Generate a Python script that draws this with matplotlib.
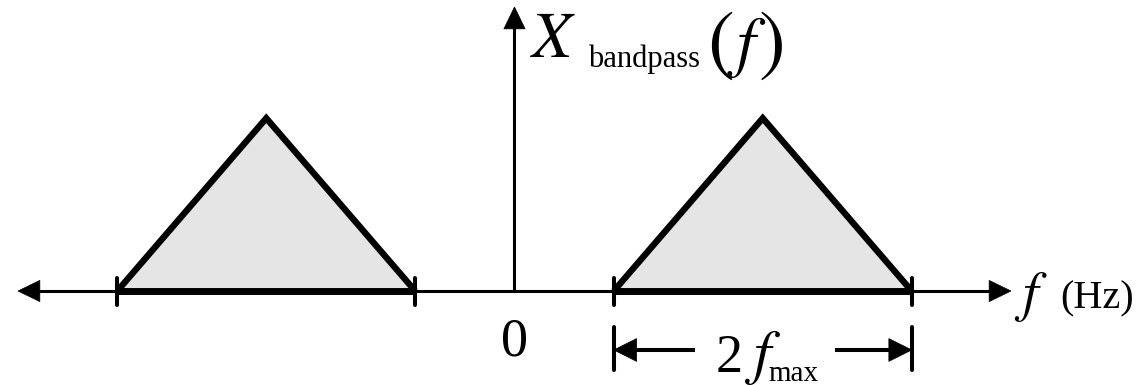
import matplotlib
matplotlib.use("Agg")
import matplotlib.pyplot as plt
from matplotlib.patches import Polygon

# Spectrum of a bandpass signal: two triangular bands mirrored about 0 Hz
freq_neg = [-4.0, -2.5, -1.0]
amp_neg = [0.0, 1.74, 0.0]
freq_pos = [1.0, 2.5, 4.0]
amp_pos = [0.0, 1.74, 0.0]
band_ticks = [-4.0, -1.0, 1.0, 4.0]
axis_reach = 5.0      # horizontal axis runs from -axis_reach to +axis_reach
axis_top = 2.86       # tip of the vertical axis
dim_level = -0.594    # height of the bandwidth dimension line

W, H, DPI = 1144, 385, 100
SCALE = 99.3          # pixels per frequency unit
X0, Y0 = 514.5, 291.0  # pixel position of the origin

fig = plt.figure(figsize=(W / DPI, H / DPI), dpi=DPI)
ax = fig.add_axes([0, 0, 1, 1])
ax.set_xlim(-X0 / SCALE, (W - X0) / SCALE)
ax.set_ylim((Y0 - H) / SCALE, Y0 / SCALE)
ax.set_aspect("equal")
ax.axis("off")

ROMAN = "Liberation Serif"
STIX = "STIXGeneral"
HEAD_L, HEAD_W = 0.22, 0.107


def head(tip, direction, length=HEAD_L, half=HEAD_W):
    """Filled triangular arrowhead with its tip at `tip`, pointing along `direction`."""
    tx, ty = tip
    dx, dy = direction
    bx, by = tx - dx * length, ty - dy * length
    px_, py_ = -dy * half, dx * half
    ax.add_patch(Polygon([(tx, ty), (bx + px_, by + py_), (bx - px_, by - py_)],
                         closed=True, facecolor="black", edgecolor="black",
                         linewidth=0.5, zorder=5))


# frequency axis (double-headed)
ax.plot([-axis_reach + HEAD_L * 0.9, axis_reach - HEAD_L * 0.9], [0, 0],
        color="black", lw=2.2, solid_capstyle="butt", zorder=2)
head((-axis_reach, 0), (-1, 0))
head((axis_reach, 0), (1, 0))

# amplitude axis
ax.plot([0, 0], [0, axis_top - HEAD_L * 0.9], color="black", lw=2.2,
        solid_capstyle="butt", zorder=2)
head((0, axis_top), (0, 1))

# band-edge ticks
for t in band_ticks:
    ax.plot([t, t], [-0.14, 0.135], color="black", lw=2.9,
            solid_capstyle="round", zorder=4)

# triangular bands
for fx, fy in ((freq_neg, amp_neg), (freq_pos, amp_pos)):
    ax.add_patch(Polygon(list(zip(fx, fy)), closed=True, facecolor="#e5e5e5",
                         edgecolor="none", zorder=1))
    ax.plot(fx, fy, color="black", lw=4.6, solid_joinstyle="miter",
            solid_capstyle="butt", zorder=3)
    ax.plot([fx[0], fx[-1]], [0, 0], color="black", lw=5.0,
            solid_capstyle="butt", zorder=3)

# bandwidth dimension: |<-- 2 f_max -->|
lo, hi = freq_pos[0], freq_pos[-1]
for t in (lo, hi):
    ax.plot([t, t], [dim_level + 0.235, dim_level - 0.2], color="black",
            lw=2.9, solid_capstyle="round", zorder=4)
ax.plot([lo + 0.2, 1.82], [dim_level, dim_level], color="black", lw=2.9,
        solid_capstyle="butt")
ax.plot([3.23, hi - 0.2], [dim_level, dim_level], color="black", lw=2.9,
        solid_capstyle="butt")
head((lo, dim_level), (-1, 0), length=0.23, half=0.115)
head((hi, dim_level), (1, 0), length=0.23, half=0.115)


def px(x, y):
    return ((x - X0) / SCALE, (Y0 - y) / SCALE)


def txt(x, y, s, size, italic=False, ha="left", family=None):
    if family is None:
        family = STIX if italic else ROMAN
    ax.text(*px(x, y), s, fontsize=size, family=family,
            style="italic" if italic else "normal", ha=ha, va="baseline",
            zorder=6)


# amplitude axis label  X_bandpass(f)
txt(532, 57, "X", 47, italic=True)
txt(588, 67, "bandpass", 22)
txt(707, 66, "(", 58, family=STIX)
txt(737, 64, "f", 48, italic=True)
txt(759, 66, ")", 58, family=STIX)

# origin label
txt(514.5, 355, "0", 39, ha="center")

# bandwidth label  2 f_max
txt(716, 372, "2", 39)
txt(754, 372, "f", 44, italic=True)
txt(768, 381, "max", 21)

# frequency axis label
txt(1022, 310, "f", 40, italic=True)
txt(1060, 308, "(Hz)", 29)

fig.savefig("out.png", dpi=DPI, facecolor="white")
